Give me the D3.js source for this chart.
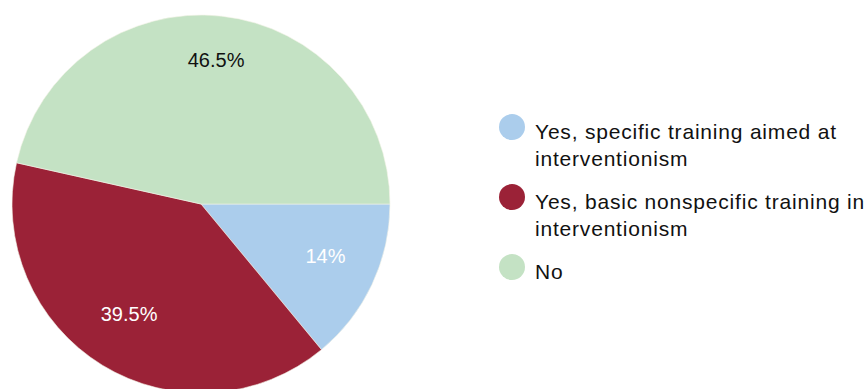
<!DOCTYPE html>
<html>
<head>
<meta charset="utf-8">
<script src="https://cdn.jsdelivr.net/npm/d3@7"></script>
<style>
  body { margin: 0; background: #fff; }
  text { font-family: "Liberation Sans", Arial, sans-serif; }
</style>
</head>
<body>
<div id="chart"></div>
<script>
const categories = [
    ["Yes, specific training aimed at", "interventionism"],
    ["Yes, basic nonspecific training in", "interventionism"],
    ["No"]
];
const values = [14, 39.5, 46.5];
const valueLabels = ["14%", "39.5%", "46.5%"];
const colors = ["#abcdec", "#9b2237", "#c4e2c4"];
const labelColors = ["#ffffff", "#ffffff", "#111111"];

const width = 867, height = 389;
const cx = 201, cy = 204, radius = 189;

const svg = d3.select("#chart").append("svg")
    .attr("width", width)
    .attr("height", height);

const data = values.map((v, i) => ({ value: v, i }));

// slices start at 3 o'clock and go clockwise
const pie = d3.pie()
    .sort(null)
    .value(d => d.value)
    .startAngle(Math.PI / 2)
    .endAngle(Math.PI / 2 + 2 * Math.PI);

const arcs = pie(data);
const arc = d3.arc().innerRadius(0).outerRadius(radius);
const labelR = radius * 0.728;
const labelArc = d3.arc().innerRadius(labelR).outerRadius(labelR);

const g = svg.append("g").attr("transform", `translate(${cx},${cy})`);

g.selectAll("path")
    .data(arcs)
    .enter()
    .append("path")
    .attr("d", arc)
    .attr("fill", d => colors[d.data.i])
    .attr("stroke", "#f4f4e8")
    .attr("stroke-width", 0.6);

// baseline of the label sits on the centroid
g.selectAll("text.val")
    .data(arcs)
    .enter()
    .append("text")
    .attr("class", "val")
    .attr("transform", d => `translate(${labelArc.centroid(d)})`)
    .attr("text-anchor", "middle")
    .attr("font-size", 20)
    .attr("fill", d => labelColors[d.data.i])
    .text(d => valueLabels[d.data.i]);

// legend
const legendY = d3.scalePoint().domain(d3.range(categories.length)).range([127, 267]);
const legend = svg.append("g");
const item = legend.selectAll("g")
    .data(categories)
    .enter()
    .append("g")
    .attr("transform", (d, i) => `translate(512,${legendY(i)})`);

item.append("circle")
    .attr("r", 13)
    .attr("fill", (d, i) => colors[i]);

item.append("text")
    .attr("y", 12)
    .attr("font-size", 21)
    .attr("letter-spacing", 0.8)
    .attr("fill", "#111")
    .selectAll("tspan")
    .data(d => d)
    .enter()
    .append("tspan")
    .attr("x", 23)
    .attr("dy", (d, j) => j === 0 ? 0 : 27)
    .text(d => d);
</script>
</body>
</html>
